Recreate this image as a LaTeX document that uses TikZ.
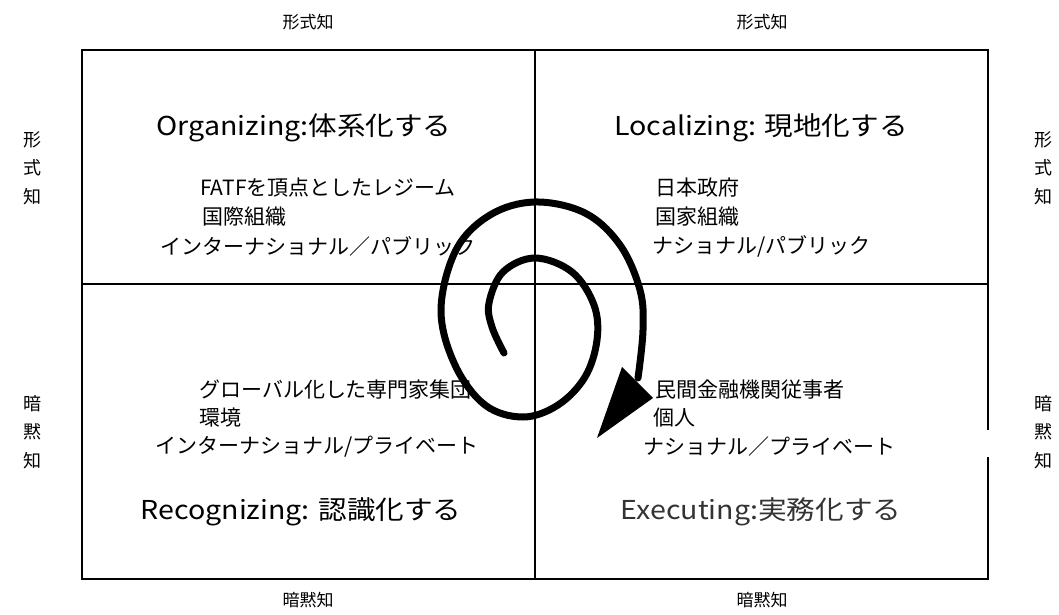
\documentclass[tikz,border=0pt]{standalone}
\usepackage{fontspec}
\setmainfont{Noto Sans CJK JP}
\usetikzlibrary{positioning}
\definecolor{execgray}{HTML}{333333}
\tikzset{
  frame/.style={line width=2.2pt,black},
  spiral/.style={line width=7pt,black,line cap=round,line join=round},
  quadtitle/.style={font=\fontsize{26}{30}\selectfont,inner sep=0pt},
  bodyline/.style={font=\fontsize{21}{25}\selectfont,anchor=west,inner sep=0pt},
  sidelabel/.style={font=\fontsize{18}{28.5}\selectfont,align=center,inner sep=0pt},
  edgelabel/.style={font=\fontsize{17}{20}\selectfont,inner sep=0pt}
}

\begin{document}
\begin{tikzpicture}[x=1pt,y=-1pt]
\useasboundingbox (0,0) rectangle (1059,615);
\draw[frame] (988,430) -- (988,50) -- (82,50) -- (82,579) -- (988,579) -- (988,457);
\draw[frame] (535,50) -- (535,579);
\draw[frame] (82,284) -- (988,284);
\node[edgelabel] (topL) at (308,22) {形式知};
\node[edgelabel] (topR) at (762,22) {形式知};
\node[edgelabel] (botL) at (308,600) {暗黙知};
\node[edgelabel] (botR) at (762,600) {暗黙知};
\node[sidelabel] (leftT) at (32,168) {形\\式\\知};
\node[sidelabel] (leftB) at (32,432) {暗\\黙\\知};
\node[sidelabel] (rightT) at (1043,168) {形\\式\\知};
\node[sidelabel] (rightB) at (1043,432) {暗\\黙\\知};
\node[quadtitle] (orgTitle) at (304,128) {\scalebox{1.1}[1]{Organizing:体系化する}};
\node[quadtitle] (locTitle) at (761,128) {\scalebox{1.1}[1]{Localizing:\hspace{0.3em}現地化する}};
\node[quadtitle] (recTitle) at (301,512) {\scalebox{1.1}[1]{Recognizing:\hspace{0.3em}認識化する}};
\node[quadtitle,text=execgray] (exeTitle) at (761,512) {\scalebox{1.1}[1]{Executing:実務化する}};
\node[bodyline] (orgA) at (200,188) {FATFを頂点としたレジーム};
\node[bodyline] (orgB) at (202,217) {国際組織};
\node[bodyline] (orgC) at (160,246) {インターナショナル／パブリック};
\node[bodyline] (locA) at (655,188) {日本政府};
\node[bodyline] (locB) at (655,217) {国家組織};
\node[bodyline] (locC) at (652,246) {ナショナル/パブリック};
\node[bodyline] (recA) at (199,390) {グローバル化した専門家集団};
\node[bodyline] (recB) at (199,418) {環境};
\node[bodyline] (recC) at (155,447) {インターナショナル/プライベート};
\node[bodyline] (exeA) at (655,390) {民間金融機関従事者};
\node[bodyline] (exeB) at (653,418) {個人};
\node[bodyline] (exeC) at (643,447) {ナショナル／プライベート};
\draw[spiral] plot[smooth,tension=0.6] coordinates {
  (504,353) (492,327) (489,303) (503,272) (535,258) (572,272) (594,305)
  (597,340) (585,377) (558,405) (523,417) (485,405) (455,365) (441,310)
  (456,250) (490,215) (535,202) (585,213) (620,245) (640,290) (643,330) (638,378)};
\fill (597,438) -- (622,367) -- (653,398) -- cycle;
\end{tikzpicture}
\end{document}
